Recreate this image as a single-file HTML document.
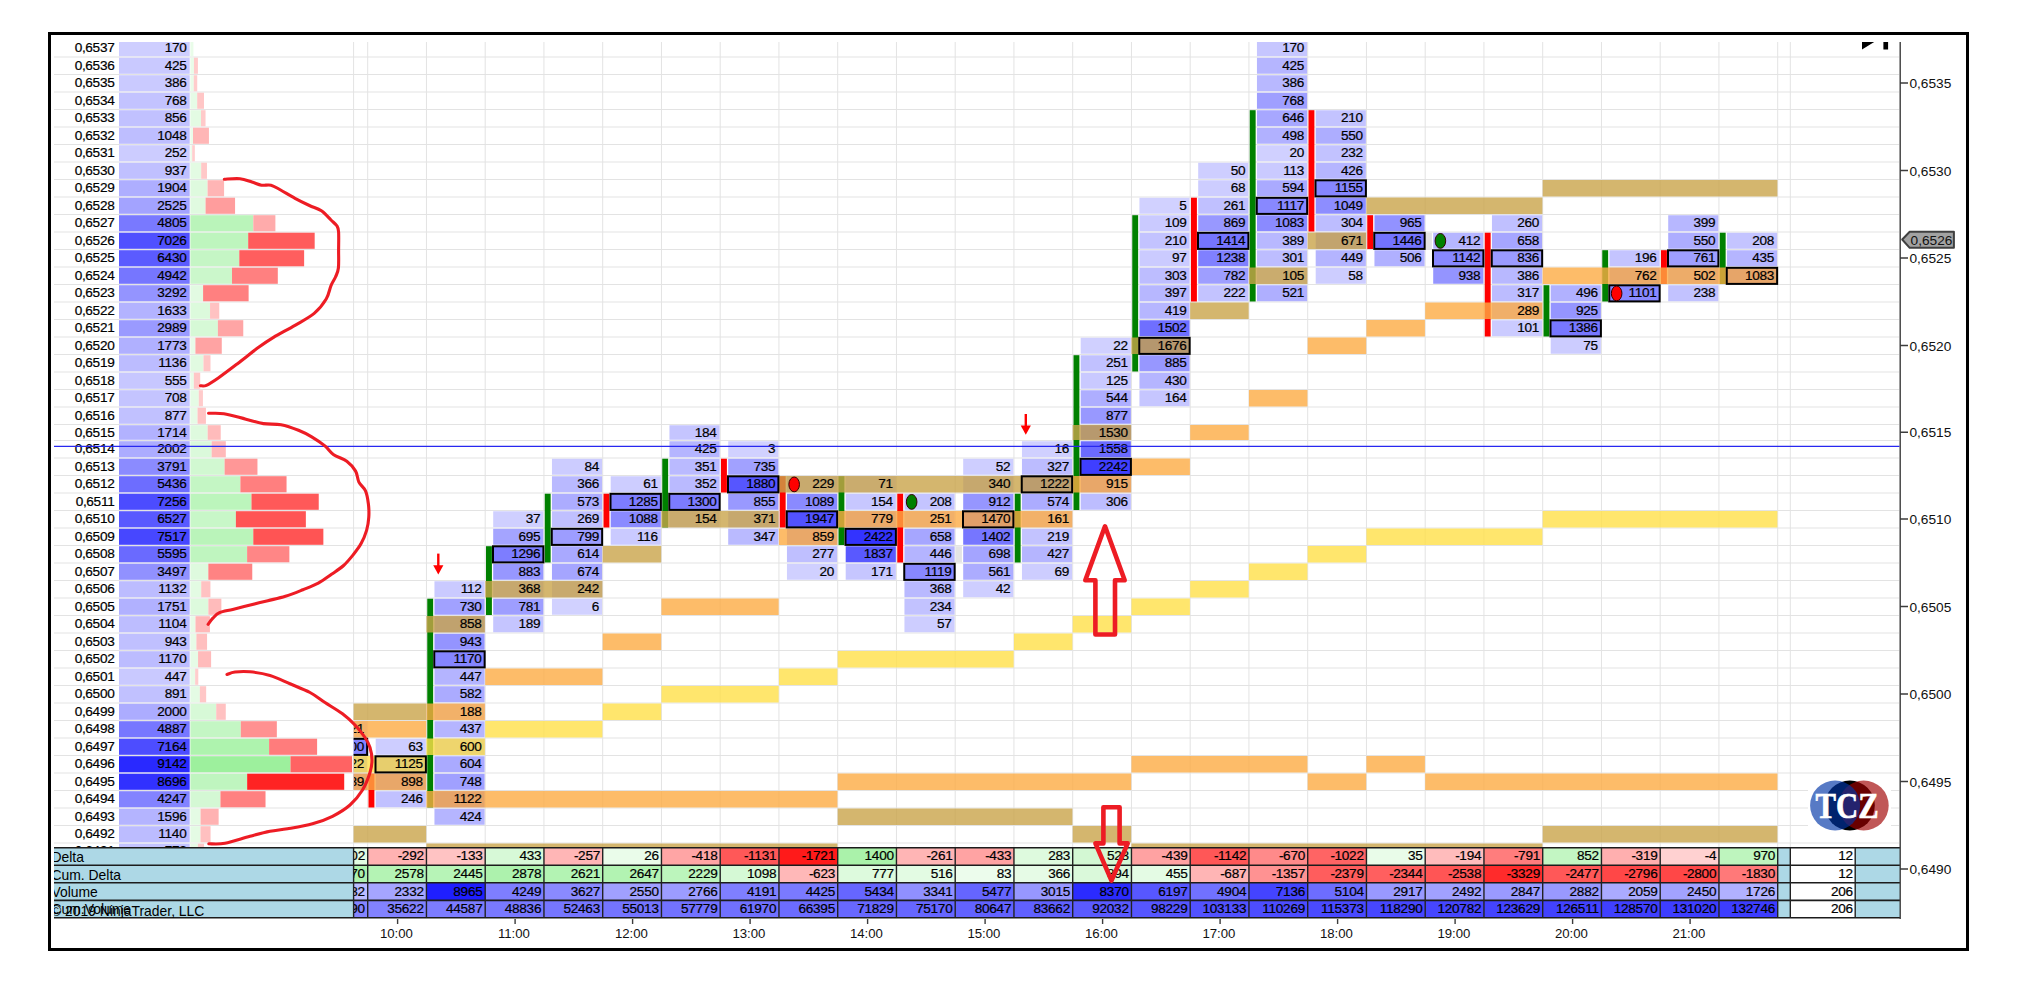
<!DOCTYPE html>
<html><head><meta charset="utf-8"><title>Footprint chart</title>
<style>
html,body{margin:0;padding:0;background:#fff}
body{width:2024px;height:1002px;position:relative;overflow:hidden;font-family:"Liberation Sans",sans-serif;font-size:13.6px;color:#000}
#frame{position:absolute;left:48px;top:32px;width:1915px;height:913px;border:3px solid #000}
svg{position:absolute;left:0;top:0}
.t{position:absolute;line-height:16px;height:16px;white-space:nowrap;-webkit-text-stroke:0.2px #000;letter-spacing:-0.3px}
.r{text-align:right}
.a{font-size:13.7px;-webkit-text-stroke:0;letter-spacing:0;color:#111}
.m{text-align:center;width:60px;font-size:13.2px;-webkit-text-stroke:0;letter-spacing:0;color:#111}
#ct{position:absolute;left:0;top:42px;width:2024px;height:805px;overflow:hidden}
#ct .t{margin-top:-42px}
#pc{position:absolute;left:353.6px;top:0;width:14.1px;height:1002px;overflow:hidden}
#lb{position:absolute;left:54px;top:848px;width:299px;height:70px;overflow:hidden}
#lb div{position:absolute;left:-2.5px;line-height:16px;white-space:nowrap;font-size:13.9px}
</style></head><body>
<div id="frame"></div>
<svg width="2024" height="1002" viewBox="0 0 2024 1002">
<defs><clipPath id="c1"><rect x="353.6" y="42" width="20" height="806"/></clipPath><clipPath id="cc"><rect x="54" y="42" width="1846" height="806"/></clipPath></defs>
<path d="M54 57 H1899 M54 74.5 H1899 M54 92 H1899 M54 109.5 H1899 M54 127 H1899 M54 144.5 H1899 M54 162 H1899 M54 179.5 H1899 M54 197 H1899 M54 214.5 H1899 M54 232 H1899 M54 249.5 H1899 M54 267 H1899 M54 284.5 H1899 M54 302 H1899 M54 319.5 H1899 M54 337 H1899 M54 354.5 H1899 M54 372 H1899 M54 389.5 H1899 M54 407 H1899 M54 424.5 H1899 M54 440.5 H1899 M54 458 H1899 M54 475.5 H1899 M54 493 H1899 M54 510.5 H1899 M54 528 H1899 M54 545.5 H1899 M54 563 H1899 M54 580.5 H1899 M54 598 H1899 M54 615.5 H1899 M54 633 H1899 M54 650.5 H1899 M54 668 H1899 M54 685.5 H1899 M54 703 H1899 M54 720.5 H1899 M54 738 H1899 M54 755.5 H1899 M54 773 H1899 M54 790.5 H1899 M54 808 H1899 M54 825.5 H1899 M54 843 H1899 M353.6 42 V847 M367.7 42 V847 M426.45 42 V847 M485.2 42 V847 M543.95 42 V847 M602.7 42 V847 M661.45 42 V847 M720.2 42 V847 M778.95 42 V847 M837.7 42 V847 M896.45 42 V847 M955.2 42 V847 M1013.95 42 V847 M1072.7 42 V847 M1131.45 42 V847 M1190.2 42 V847 M1248.95 42 V847 M1307.7 42 V847 M1366.45 42 V847 M1425.2 42 V847 M1483.95 42 V847 M1542.7 42 V847 M1601.45 42 V847 M1660.2 42 V847 M1718.95 42 V847 M1777.7 42 V847 M1790.3 42 V847" stroke="#e3e3e3" stroke-width="1" fill="none"/>
<g clip-path="url(#cc)">
<rect x="119" y="40.2" width="70.7" height="16.1" fill="#ceceff"/>
<rect x="190.4" y="40.2" width="3.01" height="16.1" fill="#e9fce9"/>
<rect x="119" y="57.7" width="70.7" height="16.1" fill="#c9c9ff"/>
<rect x="190.4" y="57.7" width="3.53" height="16.1" fill="#e9fce9"/>
<rect x="193.93" y="57.7" width="3.98" height="16.1" fill="#ffcbcb"/>
<rect x="119" y="75.2" width="70.7" height="16.1" fill="#cacaff"/>
<rect x="190.4" y="75.2" width="3.35" height="16.1" fill="#e9fce9"/>
<rect x="193.75" y="75.2" width="3.48" height="16.1" fill="#ffcccc"/>
<rect x="119" y="92.7" width="70.7" height="16.1" fill="#c3c3ff"/>
<rect x="190.4" y="92.7" width="6.79" height="16.1" fill="#e6fbe6"/>
<rect x="197.19" y="92.7" width="6.79" height="16.1" fill="#ffc6c6"/>
<rect x="119" y="110.2" width="70.7" height="16.1" fill="#c1c1ff"/>
<rect x="190.4" y="110.2" width="10.6" height="16.1" fill="#e3fbe3"/>
<rect x="201" y="110.2" width="4.54" height="16.1" fill="#ffcaca"/>
<rect x="119" y="127.7" width="70.7" height="16.1" fill="#bebeff"/>
<rect x="190.4" y="127.7" width="2.6" height="16.1" fill="#eafcea"/>
<rect x="193" y="127.7" width="15.94" height="16.1" fill="#ffb6b6"/>
<rect x="119" y="145.2" width="70.7" height="16.1" fill="#ccccff"/>
<rect x="190.4" y="145.2" width="1.78" height="16.1" fill="#eafcea"/>
<rect x="192.18" y="145.2" width="2.67" height="16.1" fill="#ffcece"/>
<rect x="119" y="162.7" width="70.7" height="16.1" fill="#c0c0ff"/>
<rect x="190.4" y="162.7" width="10.77" height="16.1" fill="#e3fbe3"/>
<rect x="201.17" y="162.7" width="5.8" height="16.1" fill="#ffc8c8"/>
<rect x="119" y="180.2" width="70.7" height="16.1" fill="#aeaeff"/>
<rect x="190.4" y="180.2" width="17.18" height="16.1" fill="#defade"/>
<rect x="207.58" y="180.2" width="16.5" height="16.1" fill="#ffb5b5"/>
<rect x="119" y="197.7" width="70.7" height="16.1" fill="#a3a3ff"/>
<rect x="190.4" y="197.7" width="15.18" height="16.1" fill="#e0fae0"/>
<rect x="205.58" y="197.7" width="29.48" height="16.1" fill="#ff9d9d"/>
<rect x="119" y="215.2" width="70.7" height="16.1" fill="#7979ff"/>
<rect x="190.4" y="215.2" width="62.89" height="16.1" fill="#baf4ba"/>
<rect x="253.29" y="215.2" width="22.1" height="16.1" fill="#ffabab"/>
<rect x="119" y="232.7" width="70.7" height="16.1" fill="#5050ff"/>
<rect x="190.4" y="232.7" width="57.79" height="16.1" fill="#bef5be"/>
<rect x="248.19" y="232.7" width="66.49" height="16.1" fill="#ff5b5b"/>
<rect x="119" y="250.2" width="70.7" height="16.1" fill="#5b5bff"/>
<rect x="190.4" y="250.2" width="48.9" height="16.1" fill="#c5f6c5"/>
<rect x="239.3" y="250.2" width="64.83" height="16.1" fill="#ff5e5e"/>
<rect x="119" y="267.7" width="70.7" height="16.1" fill="#7676ff"/>
<rect x="190.4" y="267.7" width="41.61" height="16.1" fill="#cbf7cb"/>
<rect x="232.01" y="267.7" width="45.8" height="16.1" fill="#ff8080"/>
<rect x="119" y="285.2" width="70.7" height="16.1" fill="#9494ff"/>
<rect x="190.4" y="285.2" width="12.69" height="16.1" fill="#e2fae2"/>
<rect x="203.09" y="285.2" width="45.53" height="16.1" fill="#ff8080"/>
<rect x="119" y="302.7" width="70.7" height="16.1" fill="#b3b3ff"/>
<rect x="190.4" y="302.7" width="19.64" height="16.1" fill="#dcfadc"/>
<rect x="210.04" y="302.7" width="9.24" height="16.1" fill="#ffc2c2"/>
<rect x="119" y="320.2" width="70.7" height="16.1" fill="#9a9aff"/>
<rect x="190.4" y="320.2" width="27.49" height="16.1" fill="#d6f9d6"/>
<rect x="217.89" y="320.2" width="25.38" height="16.1" fill="#ffa5a5"/>
<rect x="119" y="337.7" width="70.7" height="16.1" fill="#b0b0ff"/>
<rect x="190.4" y="337.7" width="5.02" height="16.1" fill="#e8fbe8"/>
<rect x="195.42" y="337.7" width="26.34" height="16.1" fill="#ffa3a3"/>
<rect x="119" y="355.2" width="70.7" height="16.1" fill="#bcbcff"/>
<rect x="190.4" y="355.2" width="13.06" height="16.1" fill="#e1fae1"/>
<rect x="203.46" y="355.2" width="7.03" height="16.1" fill="#ffc6c6"/>
<rect x="119" y="372.7" width="70.7" height="16.1" fill="#c7c7ff"/>
<rect x="190.4" y="372.7" width="3.44" height="16.1" fill="#e9fce9"/>
<rect x="193.84" y="372.7" width="6.38" height="16.1" fill="#ffc7c7"/>
<rect x="119" y="390.2" width="70.7" height="16.1" fill="#c4c4ff"/>
<rect x="190.4" y="390.2" width="8.39" height="16.1" fill="#e5fbe5"/>
<rect x="198.79" y="390.2" width="4.13" height="16.1" fill="#ffcbcb"/>
<rect x="119" y="407.7" width="70.7" height="16.1" fill="#c1c1ff"/>
<rect x="190.4" y="407.7" width="7.14" height="16.1" fill="#e6fbe6"/>
<rect x="197.54" y="407.7" width="8.38" height="16.1" fill="#ffc3c3"/>
<rect x="119" y="425.2" width="70.7" height="14.6" fill="#b2b2ff"/>
<rect x="190.4" y="425.2" width="17.28" height="14.6" fill="#defade"/>
<rect x="207.68" y="425.2" width="13.04" height="14.6" fill="#ffbbbb"/>
<rect x="119" y="441.2" width="70.7" height="16.1" fill="#acacff"/>
<rect x="190.4" y="441.2" width="21.25" height="16.1" fill="#dbf9db"/>
<rect x="211.65" y="441.2" width="14.16" height="16.1" fill="#ffb9b9"/>
<rect x="119" y="458.7" width="70.7" height="16.1" fill="#8b8bff"/>
<rect x="190.4" y="458.7" width="34.2" height="16.1" fill="#d1f8d1"/>
<rect x="224.6" y="458.7" width="32.86" height="16.1" fill="#ff9797"/>
<rect x="119" y="476.2" width="70.7" height="16.1" fill="#6d6dff"/>
<rect x="190.4" y="476.2" width="50" height="16.1" fill="#c4f6c4"/>
<rect x="240.4" y="476.2" width="46.15" height="16.1" fill="#ff7f7f"/>
<rect x="119" y="493.7" width="70.7" height="16.1" fill="#4c4cff"/>
<rect x="190.4" y="493.7" width="61.09" height="16.1" fill="#bcf5bc"/>
<rect x="251.49" y="493.7" width="67.25" height="16.1" fill="#ff5959"/>
<rect x="119" y="511.2" width="70.7" height="16.1" fill="#5959ff"/>
<rect x="190.4" y="511.2" width="45.49" height="16.1" fill="#c8f7c8"/>
<rect x="235.89" y="511.2" width="69.96" height="16.1" fill="#ff5454"/>
<rect x="119" y="528.7" width="70.7" height="16.1" fill="#4747ff"/>
<rect x="190.4" y="528.7" width="62.89" height="16.1" fill="#baf4ba"/>
<rect x="253.29" y="528.7" width="70.07" height="16.1" fill="#ff5454"/>
<rect x="119" y="546.2" width="70.7" height="16.1" fill="#6a6aff"/>
<rect x="190.4" y="546.2" width="56.71" height="16.1" fill="#bff5bf"/>
<rect x="247.11" y="546.2" width="42.26" height="16.1" fill="#ff8686"/>
<rect x="119" y="563.7" width="70.7" height="16.1" fill="#9191ff"/>
<rect x="190.4" y="563.7" width="17.94" height="16.1" fill="#defade"/>
<rect x="208.34" y="563.7" width="43.92" height="16.1" fill="#ff8383"/>
<rect x="119" y="581.2" width="70.7" height="16.1" fill="#bcbcff"/>
<rect x="190.4" y="581.2" width="10.81" height="16.1" fill="#e3fbe3"/>
<rect x="201.21" y="581.2" width="9.21" height="16.1" fill="#ffc2c2"/>
<rect x="119" y="598.7" width="70.7" height="16.1" fill="#b1b1ff"/>
<rect x="190.4" y="598.7" width="17.96" height="16.1" fill="#ddfadd"/>
<rect x="208.36" y="598.7" width="13.01" height="16.1" fill="#ffbbbb"/>
<rect x="119" y="616.2" width="70.7" height="16.1" fill="#bdbdff"/>
<rect x="190.4" y="616.2" width="5.08" height="16.1" fill="#e8fbe8"/>
<rect x="195.48" y="616.2" width="14.45" height="16.1" fill="#ffb8b8"/>
<rect x="119" y="633.7" width="70.7" height="16.1" fill="#c0c0ff"/>
<rect x="190.4" y="633.7" width="6" height="16.1" fill="#e7fbe7"/>
<rect x="196.4" y="633.7" width="10.67" height="16.1" fill="#ffbfbf"/>
<rect x="119" y="651.2" width="70.7" height="16.1" fill="#bcbcff"/>
<rect x="190.4" y="651.2" width="7.66" height="16.1" fill="#e6fbe6"/>
<rect x="198.06" y="651.2" width="13.04" height="16.1" fill="#ffbbbb"/>
<rect x="119" y="668.7" width="70.7" height="16.1" fill="#c9c9ff"/>
<rect x="190.4" y="668.7" width="4.74" height="16.1" fill="#e8fbe8"/>
<rect x="195.14" y="668.7" width="3.16" height="16.1" fill="#ffcdcd"/>
<rect x="119" y="686.2" width="70.7" height="16.1" fill="#c1c1ff"/>
<rect x="190.4" y="686.2" width="9.46" height="16.1" fill="#e4fbe4"/>
<rect x="199.86" y="686.2" width="6.3" height="16.1" fill="#ffc7c7"/>
<rect x="119" y="703.7" width="70.7" height="16.1" fill="#acacff"/>
<rect x="190.4" y="703.7" width="25.82" height="16.1" fill="#d7f9d7"/>
<rect x="216.22" y="703.7" width="9.55" height="16.1" fill="#ffc1c1"/>
<rect x="119" y="721.2" width="70.7" height="16.1" fill="#7777ff"/>
<rect x="190.4" y="721.2" width="50.39" height="16.1" fill="#c4f6c4"/>
<rect x="240.79" y="721.2" width="36.05" height="16.1" fill="#ff9191"/>
<rect x="119" y="738.7" width="70.7" height="16.1" fill="#4d4dff"/>
<rect x="190.4" y="738.7" width="78.69" height="16.1" fill="#aef3ae"/>
<rect x="269.09" y="738.7" width="48.02" height="16.1" fill="#ff7c7c"/>
<rect x="119" y="756.2" width="70.7" height="16.1" fill="#2929ff"/>
<rect x="190.4" y="756.2" width="100.09" height="16.1" fill="#9df09d"/>
<rect x="290.49" y="756.2" width="61.61" height="16.1" fill="#ff6363"/>
<rect x="119" y="773.7" width="70.7" height="16.1" fill="#3131ff"/>
<rect x="190.4" y="773.7" width="56.76" height="16.1" fill="#bff5bf"/>
<rect x="247.16" y="773.7" width="97.05" height="16.1" fill="#ff2323"/>
<rect x="119" y="791.2" width="70.7" height="16.1" fill="#8383ff"/>
<rect x="190.4" y="791.2" width="30.05" height="16.1" fill="#d4f8d4"/>
<rect x="220.45" y="791.2" width="45.07" height="16.1" fill="#ff8181"/>
<rect x="119" y="808.7" width="70.7" height="16.1" fill="#b4b4ff"/>
<rect x="190.4" y="808.7" width="10.16" height="16.1" fill="#e4fbe4"/>
<rect x="200.56" y="808.7" width="18.07" height="16.1" fill="#ffb2b2"/>
<rect x="119" y="826.2" width="70.7" height="16.1" fill="#bcbcff"/>
<rect x="190.4" y="826.2" width="10.08" height="16.1" fill="#e4fbe4"/>
<rect x="200.48" y="826.2" width="10.08" height="16.1" fill="#ffc0c0"/>
<rect x="119" y="843.7" width="70.7" height="16.1" fill="#c3c3ff"/>
<rect x="190.4" y="843.7" width="7.51" height="16.1" fill="#e6fbe6"/>
<rect x="197.91" y="843.7" width="6.14" height="16.1" fill="#ffc7c7"/>
<rect x="368.5" y="773.7" width="5.9" height="33.8" fill="#ff0000"/>
<rect x="427.25" y="598.7" width="5.9" height="208.8" fill="#008000"/>
<rect x="486" y="546.2" width="5.9" height="68.8" fill="#008000"/>
<rect x="544.75" y="493.7" width="5.9" height="68.8" fill="#008000"/>
<rect x="603.5" y="493.7" width="5.9" height="33.8" fill="#ff0000"/>
<rect x="662.25" y="458.7" width="5.9" height="68.8" fill="#008000"/>
<rect x="721" y="458.7" width="5.9" height="33.8" fill="#ff0000"/>
<rect x="779.75" y="476.2" width="5.9" height="51.3" fill="#ff0000"/>
<rect x="838.5" y="476.2" width="5.9" height="68.8" fill="#008000"/>
<rect x="897.25" y="493.7" width="5.9" height="68.8" fill="#ff0000"/>
<rect x="956" y="546.2" width="5.9" height="16.3" fill="#e4e4e4"/>
<rect x="1014.75" y="493.7" width="5.9" height="68.8" fill="#008000"/>
<rect x="1073.5" y="355.2" width="5.9" height="154.8" fill="#008000"/>
<rect x="1132.25" y="215.2" width="5.9" height="156.3" fill="#008000"/>
<rect x="1191" y="197.7" width="5.9" height="103.8" fill="#ff0000"/>
<rect x="1249.75" y="110.2" width="5.9" height="191.3" fill="#008000"/>
<rect x="1308.5" y="110.2" width="5.9" height="121.3" fill="#ff0000"/>
<rect x="1367.25" y="215.2" width="5.9" height="33.8" fill="#ff0000"/>
<rect x="1426" y="232.7" width="5.9" height="16.3" fill="#e4e4e4"/>
<rect x="1484.75" y="232.7" width="5.9" height="103.8" fill="#ff0000"/>
<rect x="1543.5" y="285.2" width="5.9" height="51.3" fill="#008000"/>
<rect x="1602.25" y="250.2" width="5.9" height="51.3" fill="#008000"/>
<rect x="1661" y="250.2" width="5.9" height="33.8" fill="#ff0000"/>
<rect x="1719.75" y="232.7" width="5.9" height="51.3" fill="#008000"/>
<rect x="353.6" y="721.25" width="13.5" height="16" fill="#d0d0ff"/>
<rect x="353.6" y="738.75" width="13.5" height="16" fill="#8383ff"/>
<rect x="353.6" y="756.25" width="13.5" height="16" fill="#9595ff"/>
<rect x="353.6" y="773.75" width="13.5" height="16" fill="#9797ff"/>
<rect x="375.7" y="738.75" width="50.15" height="16" fill="#cdcdff"/>
<rect x="375.7" y="756.25" width="50.15" height="16" fill="#8888ff"/>
<rect x="375.7" y="773.75" width="50.15" height="16" fill="#9696ff"/>
<rect x="375.7" y="791.25" width="50.15" height="16" fill="#c1c1ff"/>
<rect x="434.45" y="581.25" width="50.15" height="16" fill="#cacaff"/>
<rect x="434.45" y="598.75" width="50.15" height="16" fill="#a1a1ff"/>
<rect x="434.45" y="616.25" width="50.15" height="16" fill="#9999ff"/>
<rect x="434.45" y="633.75" width="50.15" height="16" fill="#9494ff"/>
<rect x="434.45" y="651.25" width="50.15" height="16" fill="#8585ff"/>
<rect x="434.45" y="668.75" width="50.15" height="16" fill="#b4b4ff"/>
<rect x="434.45" y="686.25" width="50.15" height="16" fill="#ababff"/>
<rect x="434.45" y="703.75" width="50.15" height="16" fill="#c5c5ff"/>
<rect x="434.45" y="721.25" width="50.15" height="16" fill="#b5b5ff"/>
<rect x="434.45" y="738.75" width="50.15" height="16" fill="#aaaaff"/>
<rect x="434.45" y="756.25" width="50.15" height="16" fill="#aaaaff"/>
<rect x="434.45" y="773.75" width="50.15" height="16" fill="#a0a0ff"/>
<rect x="434.45" y="791.25" width="50.15" height="16" fill="#8888ff"/>
<rect x="434.45" y="808.75" width="50.15" height="16" fill="#b5b5ff"/>
<rect x="493.2" y="511.25" width="50.15" height="16" fill="#cfcfff"/>
<rect x="493.2" y="528.75" width="50.15" height="16" fill="#a4a4ff"/>
<rect x="493.2" y="546.25" width="50.15" height="16" fill="#7d7dff"/>
<rect x="493.2" y="563.75" width="50.15" height="16" fill="#9797ff"/>
<rect x="493.2" y="581.25" width="50.15" height="16" fill="#b9b9ff"/>
<rect x="493.2" y="598.75" width="50.15" height="16" fill="#9e9eff"/>
<rect x="493.2" y="616.25" width="50.15" height="16" fill="#c5c5ff"/>
<rect x="551.95" y="458.75" width="50.15" height="16" fill="#ccccff"/>
<rect x="551.95" y="476.25" width="50.15" height="16" fill="#b9b9ff"/>
<rect x="551.95" y="493.75" width="50.15" height="16" fill="#acacff"/>
<rect x="551.95" y="511.25" width="50.15" height="16" fill="#c0c0ff"/>
<rect x="551.95" y="528.75" width="50.15" height="16" fill="#9d9dff"/>
<rect x="551.95" y="546.25" width="50.15" height="16" fill="#a9a9ff"/>
<rect x="551.95" y="563.75" width="50.15" height="16" fill="#a5a5ff"/>
<rect x="551.95" y="581.25" width="50.15" height="16" fill="#c1c1ff"/>
<rect x="551.95" y="598.75" width="50.15" height="16" fill="#d1d1ff"/>
<rect x="610.7" y="476.25" width="50.15" height="16" fill="#cdcdff"/>
<rect x="610.7" y="493.75" width="50.15" height="16" fill="#7d7dff"/>
<rect x="610.7" y="511.25" width="50.15" height="16" fill="#8a8aff"/>
<rect x="610.7" y="528.75" width="50.15" height="16" fill="#cacaff"/>
<rect x="669.45" y="425.25" width="50.15" height="14.5" fill="#c5c5ff"/>
<rect x="669.45" y="441.25" width="50.15" height="16" fill="#b5b5ff"/>
<rect x="669.45" y="458.75" width="50.15" height="16" fill="#babaff"/>
<rect x="669.45" y="476.25" width="50.15" height="16" fill="#babaff"/>
<rect x="669.45" y="493.75" width="50.15" height="16" fill="#7c7cff"/>
<rect x="669.45" y="511.25" width="50.15" height="16" fill="#c7c7ff"/>
<rect x="728.2" y="441.25" width="50.15" height="16" fill="#d1d1ff"/>
<rect x="728.2" y="458.75" width="50.15" height="16" fill="#a1a1ff"/>
<rect x="728.2" y="476.25" width="50.15" height="16" fill="#5656ff"/>
<rect x="728.2" y="493.75" width="50.15" height="16" fill="#9999ff"/>
<rect x="728.2" y="511.25" width="50.15" height="16" fill="#b9b9ff"/>
<rect x="728.2" y="528.75" width="50.15" height="16" fill="#babaff"/>
<rect x="786.95" y="476.25" width="50.15" height="16" fill="#c2c2ff"/>
<rect x="786.95" y="493.75" width="50.15" height="16" fill="#8a8aff"/>
<rect x="786.95" y="511.25" width="50.15" height="16" fill="#5252ff"/>
<rect x="786.95" y="528.75" width="50.15" height="16" fill="#9999ff"/>
<rect x="786.95" y="546.25" width="50.15" height="16" fill="#bfbfff"/>
<rect x="786.95" y="563.75" width="50.15" height="16" fill="#d0d0ff"/>
<rect x="845.7" y="476.25" width="50.15" height="16" fill="#ccccff"/>
<rect x="845.7" y="493.75" width="50.15" height="16" fill="#c7c7ff"/>
<rect x="845.7" y="511.25" width="50.15" height="16" fill="#9e9eff"/>
<rect x="845.7" y="528.75" width="50.15" height="16" fill="#3333ff"/>
<rect x="845.7" y="546.25" width="50.15" height="16" fill="#5959ff"/>
<rect x="845.7" y="563.75" width="50.15" height="16" fill="#c6c6ff"/>
<rect x="904.45" y="493.75" width="50.15" height="16" fill="#c4c4ff"/>
<rect x="904.45" y="511.25" width="50.15" height="16" fill="#c1c1ff"/>
<rect x="904.45" y="528.75" width="50.15" height="16" fill="#a6a6ff"/>
<rect x="904.45" y="546.25" width="50.15" height="16" fill="#b4b4ff"/>
<rect x="904.45" y="563.75" width="50.15" height="16" fill="#8888ff"/>
<rect x="904.45" y="581.25" width="50.15" height="16" fill="#b9b9ff"/>
<rect x="904.45" y="598.75" width="50.15" height="16" fill="#c2c2ff"/>
<rect x="904.45" y="616.25" width="50.15" height="16" fill="#cdcdff"/>
<rect x="963.2" y="458.75" width="50.15" height="16" fill="#ceceff"/>
<rect x="963.2" y="476.25" width="50.15" height="16" fill="#bbbbff"/>
<rect x="963.2" y="493.75" width="50.15" height="16" fill="#9696ff"/>
<rect x="963.2" y="511.25" width="50.15" height="16" fill="#7171ff"/>
<rect x="963.2" y="528.75" width="50.15" height="16" fill="#7676ff"/>
<rect x="963.2" y="546.25" width="50.15" height="16" fill="#a4a4ff"/>
<rect x="963.2" y="563.75" width="50.15" height="16" fill="#acacff"/>
<rect x="963.2" y="581.25" width="50.15" height="16" fill="#ceceff"/>
<rect x="1021.95" y="441.25" width="50.15" height="16" fill="#d0d0ff"/>
<rect x="1021.95" y="458.75" width="50.15" height="16" fill="#bcbcff"/>
<rect x="1021.95" y="476.25" width="50.15" height="16" fill="#8181ff"/>
<rect x="1021.95" y="493.75" width="50.15" height="16" fill="#acacff"/>
<rect x="1021.95" y="511.25" width="50.15" height="16" fill="#c7c7ff"/>
<rect x="1021.95" y="528.75" width="50.15" height="16" fill="#c3c3ff"/>
<rect x="1021.95" y="546.25" width="50.15" height="16" fill="#b5b5ff"/>
<rect x="1021.95" y="563.75" width="50.15" height="16" fill="#cdcdff"/>
<rect x="1080.7" y="337.75" width="50.15" height="16" fill="#d0d0ff"/>
<rect x="1080.7" y="355.25" width="50.15" height="16" fill="#c1c1ff"/>
<rect x="1080.7" y="372.75" width="50.15" height="16" fill="#c9c9ff"/>
<rect x="1080.7" y="390.25" width="50.15" height="16" fill="#aeaeff"/>
<rect x="1080.7" y="407.75" width="50.15" height="16" fill="#9898ff"/>
<rect x="1080.7" y="425.25" width="50.15" height="14.5" fill="#6d6dff"/>
<rect x="1080.7" y="441.25" width="50.15" height="16" fill="#6b6bff"/>
<rect x="1080.7" y="458.75" width="50.15" height="16" fill="#3f3fff"/>
<rect x="1080.7" y="476.25" width="50.15" height="16" fill="#9595ff"/>
<rect x="1080.7" y="493.75" width="50.15" height="16" fill="#bdbdff"/>
<rect x="1139.45" y="197.75" width="50.15" height="16" fill="#d1d1ff"/>
<rect x="1139.45" y="215.25" width="50.15" height="16" fill="#cacaff"/>
<rect x="1139.45" y="232.75" width="50.15" height="16" fill="#c3c3ff"/>
<rect x="1139.45" y="250.25" width="50.15" height="16" fill="#cbcbff"/>
<rect x="1139.45" y="267.75" width="50.15" height="16" fill="#bdbdff"/>
<rect x="1139.45" y="285.25" width="50.15" height="16" fill="#b7b7ff"/>
<rect x="1139.45" y="302.75" width="50.15" height="16" fill="#b6b6ff"/>
<rect x="1139.45" y="320.25" width="50.15" height="16" fill="#6f6fff"/>
<rect x="1139.45" y="337.75" width="50.15" height="16" fill="#6464ff"/>
<rect x="1139.45" y="355.25" width="50.15" height="16" fill="#9797ff"/>
<rect x="1139.45" y="372.75" width="50.15" height="16" fill="#b5b5ff"/>
<rect x="1139.45" y="390.25" width="50.15" height="16" fill="#c6c6ff"/>
<rect x="1198.2" y="162.75" width="50.15" height="16" fill="#ceceff"/>
<rect x="1198.2" y="180.25" width="50.15" height="16" fill="#cdcdff"/>
<rect x="1198.2" y="197.75" width="50.15" height="16" fill="#c0c0ff"/>
<rect x="1198.2" y="215.25" width="50.15" height="16" fill="#9898ff"/>
<rect x="1198.2" y="232.75" width="50.15" height="16" fill="#7575ff"/>
<rect x="1198.2" y="250.25" width="50.15" height="16" fill="#8080ff"/>
<rect x="1198.2" y="267.75" width="50.15" height="16" fill="#9e9eff"/>
<rect x="1198.2" y="285.25" width="50.15" height="16" fill="#c3c3ff"/>
<rect x="1256.95" y="40.25" width="50.15" height="16" fill="#c6c6ff"/>
<rect x="1256.95" y="57.75" width="50.15" height="16" fill="#b5b5ff"/>
<rect x="1256.95" y="75.25" width="50.15" height="16" fill="#b8b8ff"/>
<rect x="1256.95" y="92.75" width="50.15" height="16" fill="#9f9fff"/>
<rect x="1256.95" y="110.25" width="50.15" height="16" fill="#a7a7ff"/>
<rect x="1256.95" y="127.75" width="50.15" height="16" fill="#b1b1ff"/>
<rect x="1256.95" y="145.25" width="50.15" height="16" fill="#d0d0ff"/>
<rect x="1256.95" y="162.75" width="50.15" height="16" fill="#cacaff"/>
<rect x="1256.95" y="180.25" width="50.15" height="16" fill="#aaaaff"/>
<rect x="1256.95" y="197.75" width="50.15" height="16" fill="#8888ff"/>
<rect x="1256.95" y="215.25" width="50.15" height="16" fill="#8a8aff"/>
<rect x="1256.95" y="232.75" width="50.15" height="16" fill="#b8b8ff"/>
<rect x="1256.95" y="250.25" width="50.15" height="16" fill="#bdbdff"/>
<rect x="1256.95" y="267.75" width="50.15" height="16" fill="#cacaff"/>
<rect x="1256.95" y="285.25" width="50.15" height="16" fill="#afafff"/>
<rect x="1315.7" y="110.25" width="50.15" height="16" fill="#c3c3ff"/>
<rect x="1315.7" y="127.75" width="50.15" height="16" fill="#adadff"/>
<rect x="1315.7" y="145.25" width="50.15" height="16" fill="#c2c2ff"/>
<rect x="1315.7" y="162.75" width="50.15" height="16" fill="#b5b5ff"/>
<rect x="1315.7" y="180.25" width="50.15" height="16" fill="#8686ff"/>
<rect x="1315.7" y="197.75" width="50.15" height="16" fill="#8d8dff"/>
<rect x="1315.7" y="215.25" width="50.15" height="16" fill="#bdbdff"/>
<rect x="1315.7" y="232.75" width="50.15" height="16" fill="#a5a5ff"/>
<rect x="1315.7" y="250.25" width="50.15" height="16" fill="#b4b4ff"/>
<rect x="1315.7" y="267.75" width="50.15" height="16" fill="#cdcdff"/>
<rect x="1374.45" y="215.25" width="50.15" height="16" fill="#9292ff"/>
<rect x="1374.45" y="232.75" width="50.15" height="16" fill="#7373ff"/>
<rect x="1374.45" y="250.25" width="50.15" height="16" fill="#b0b0ff"/>
<rect x="1433.2" y="232.75" width="50.15" height="16" fill="#b6b6ff"/>
<rect x="1433.2" y="250.25" width="50.15" height="16" fill="#8787ff"/>
<rect x="1433.2" y="267.75" width="50.15" height="16" fill="#9494ff"/>
<rect x="1491.95" y="215.25" width="50.15" height="16" fill="#c0c0ff"/>
<rect x="1491.95" y="232.75" width="50.15" height="16" fill="#a6a6ff"/>
<rect x="1491.95" y="250.25" width="50.15" height="16" fill="#9b9bff"/>
<rect x="1491.95" y="267.75" width="50.15" height="16" fill="#b8b8ff"/>
<rect x="1491.95" y="285.25" width="50.15" height="16" fill="#bcbcff"/>
<rect x="1491.95" y="302.75" width="50.15" height="16" fill="#bebeff"/>
<rect x="1491.95" y="320.25" width="50.15" height="16" fill="#cbcbff"/>
<rect x="1550.7" y="285.25" width="50.15" height="16" fill="#b1b1ff"/>
<rect x="1550.7" y="302.75" width="50.15" height="16" fill="#9595ff"/>
<rect x="1550.7" y="320.25" width="50.15" height="16" fill="#7777ff"/>
<rect x="1550.7" y="337.75" width="50.15" height="16" fill="#ccccff"/>
<rect x="1609.45" y="250.25" width="50.15" height="16" fill="#c4c4ff"/>
<rect x="1609.45" y="267.75" width="50.15" height="16" fill="#9f9fff"/>
<rect x="1609.45" y="285.25" width="50.15" height="16" fill="#8989ff"/>
<rect x="1668.2" y="215.25" width="50.15" height="16" fill="#b7b7ff"/>
<rect x="1668.2" y="232.75" width="50.15" height="16" fill="#adadff"/>
<rect x="1668.2" y="250.25" width="50.15" height="16" fill="#9f9fff"/>
<rect x="1668.2" y="267.75" width="50.15" height="16" fill="#b0b0ff"/>
<rect x="1668.2" y="285.25" width="50.15" height="16" fill="#c2c2ff"/>
<rect x="1726.95" y="232.75" width="50.15" height="16" fill="#c4c4ff"/>
<rect x="1726.95" y="250.25" width="50.15" height="16" fill="#b5b5ff"/>
<rect x="1726.95" y="267.75" width="50.15" height="16" fill="#8a8aff"/>
<rect x="353.6" y="703.5" width="72.55" height="16.5" fill="#c9a44a" fill-opacity="0.8"/>
<rect x="426.45" y="616" width="58.45" height="16.5" fill="#c9a44a" fill-opacity="0.8"/>
<rect x="485.2" y="581" width="117.2" height="16.5" fill="#c9a44a" fill-opacity="0.8"/>
<rect x="602.7" y="546" width="58.45" height="16.5" fill="#c9a44a" fill-opacity="0.8"/>
<rect x="661.45" y="511" width="117.2" height="16.5" fill="#c9a44a" fill-opacity="0.8"/>
<rect x="778.95" y="476" width="293.45" height="16.5" fill="#c9a44a" fill-opacity="0.8"/>
<rect x="1072.7" y="425" width="58.45" height="15" fill="#c9a44a" fill-opacity="0.8"/>
<rect x="1131.45" y="337.5" width="58.45" height="16.5" fill="#c9a44a" fill-opacity="0.8"/>
<rect x="1190.2" y="302.5" width="58.45" height="16.5" fill="#c9a44a" fill-opacity="0.8"/>
<rect x="1248.95" y="267.5" width="58.45" height="16.5" fill="#c9a44a" fill-opacity="0.8"/>
<rect x="1307.7" y="232.5" width="58.45" height="16.5" fill="#c9a44a" fill-opacity="0.8"/>
<rect x="1366.45" y="197.5" width="175.95" height="16.5" fill="#c9a44a" fill-opacity="0.8"/>
<rect x="1542.7" y="180" width="234.7" height="16.5" fill="#c9a44a" fill-opacity="0.8"/>
<rect x="353.6" y="826" width="72.55" height="16.5" fill="#c9a44a" fill-opacity="0.8"/>
<rect x="426.45" y="843.5" width="410.95" height="16.5" fill="#c9a44a" fill-opacity="0.8"/>
<rect x="837.7" y="808.5" width="234.7" height="16.5" fill="#c9a44a" fill-opacity="0.8"/>
<rect x="1072.7" y="826" width="58.45" height="16.5" fill="#c9a44a" fill-opacity="0.8"/>
<rect x="1131.45" y="843.5" width="410.95" height="16.5" fill="#c9a44a" fill-opacity="0.8"/>
<rect x="1542.7" y="826" width="234.7" height="16.5" fill="#c9a44a" fill-opacity="0.8"/>
<rect x="353.6" y="721" width="72.55" height="16.5" fill="#fcab44" fill-opacity="0.8"/>
<rect x="426.45" y="703.5" width="58.45" height="16.5" fill="#fcab44" fill-opacity="0.8"/>
<rect x="485.2" y="668.5" width="117.2" height="16.5" fill="#fcab44" fill-opacity="0.8"/>
<rect x="602.7" y="633.5" width="58.45" height="16.5" fill="#fcab44" fill-opacity="0.8"/>
<rect x="661.45" y="598.5" width="117.2" height="16.5" fill="#fcab44" fill-opacity="0.8"/>
<rect x="778.95" y="528.5" width="58.45" height="16.5" fill="#fcab44" fill-opacity="0.8"/>
<rect x="837.7" y="511" width="234.7" height="16.5" fill="#fcab44" fill-opacity="0.8"/>
<rect x="1072.7" y="476" width="58.45" height="16.5" fill="#fcab44" fill-opacity="0.8"/>
<rect x="1131.45" y="458.5" width="58.45" height="16.5" fill="#fcab44" fill-opacity="0.8"/>
<rect x="1190.2" y="425" width="58.45" height="15" fill="#fcab44" fill-opacity="0.8"/>
<rect x="1248.95" y="390" width="58.45" height="16.5" fill="#fcab44" fill-opacity="0.8"/>
<rect x="1307.7" y="337.5" width="58.45" height="16.5" fill="#fcab44" fill-opacity="0.8"/>
<rect x="1366.45" y="320" width="58.45" height="16.5" fill="#fcab44" fill-opacity="0.8"/>
<rect x="1425.2" y="302.5" width="117.2" height="16.5" fill="#fcab44" fill-opacity="0.8"/>
<rect x="1542.7" y="267.5" width="234.7" height="16.5" fill="#fcab44" fill-opacity="0.8"/>
<rect x="353.6" y="773.5" width="72.55" height="16.5" fill="#fcab44" fill-opacity="0.8"/>
<rect x="426.45" y="791" width="410.95" height="16.5" fill="#fcab44" fill-opacity="0.8"/>
<rect x="837.7" y="773.5" width="293.45" height="16.5" fill="#fcab44" fill-opacity="0.8"/>
<rect x="1131.45" y="756" width="175.95" height="16.5" fill="#fcab44" fill-opacity="0.8"/>
<rect x="1307.7" y="773.5" width="58.45" height="16.5" fill="#fcab44" fill-opacity="0.8"/>
<rect x="1366.45" y="756" width="58.45" height="16.5" fill="#fcab44" fill-opacity="0.8"/>
<rect x="1425.2" y="773.5" width="352.2" height="16.5" fill="#fcab44" fill-opacity="0.8"/>
<rect x="353.6" y="756" width="72.55" height="16.5" fill="#ffe049" fill-opacity="0.8"/>
<rect x="426.45" y="738.5" width="58.45" height="16.5" fill="#ffe049" fill-opacity="0.8"/>
<rect x="485.2" y="721" width="117.2" height="16.5" fill="#ffe049" fill-opacity="0.8"/>
<rect x="602.7" y="703.5" width="58.45" height="16.5" fill="#ffe049" fill-opacity="0.8"/>
<rect x="661.45" y="686" width="117.2" height="16.5" fill="#ffe049" fill-opacity="0.8"/>
<rect x="778.95" y="668.5" width="58.45" height="16.5" fill="#ffe049" fill-opacity="0.8"/>
<rect x="837.7" y="651" width="175.95" height="16.5" fill="#ffe049" fill-opacity="0.8"/>
<rect x="1013.95" y="633.5" width="58.45" height="16.5" fill="#ffe049" fill-opacity="0.8"/>
<rect x="1072.7" y="616" width="58.45" height="16.5" fill="#ffe049" fill-opacity="0.8"/>
<rect x="1131.45" y="598.5" width="58.45" height="16.5" fill="#ffe049" fill-opacity="0.8"/>
<rect x="1190.2" y="581" width="58.45" height="16.5" fill="#ffe049" fill-opacity="0.8"/>
<rect x="1248.95" y="563.5" width="58.45" height="16.5" fill="#ffe049" fill-opacity="0.8"/>
<rect x="1307.7" y="546" width="58.45" height="16.5" fill="#ffe049" fill-opacity="0.8"/>
<rect x="1366.45" y="528.5" width="175.95" height="16.5" fill="#ffe049" fill-opacity="0.8"/>
<rect x="1542.7" y="511" width="234.7" height="16.5" fill="#ffe049" fill-opacity="0.8"/>
<rect x="316.75" y="738.8" width="50.4" height="16.1" fill="none" stroke="#000" stroke-width="2" clip-path="url(#c1)"/>
<rect x="375.5" y="756.3" width="50.4" height="16.1" fill="none" stroke="#000" stroke-width="2"/>
<rect x="434.25" y="651.3" width="50.4" height="16.1" fill="none" stroke="#000" stroke-width="2"/>
<rect x="493" y="546.3" width="50.4" height="16.1" fill="none" stroke="#000" stroke-width="2"/>
<rect x="551.75" y="528.8" width="50.4" height="16.1" fill="none" stroke="#000" stroke-width="2"/>
<rect x="610.5" y="493.8" width="50.4" height="16.1" fill="none" stroke="#000" stroke-width="2"/>
<rect x="669.25" y="493.8" width="50.4" height="16.1" fill="none" stroke="#000" stroke-width="2"/>
<rect x="728" y="476.3" width="50.4" height="16.1" fill="none" stroke="#000" stroke-width="2"/>
<rect x="786.75" y="511.3" width="50.4" height="16.1" fill="none" stroke="#000" stroke-width="2"/>
<rect x="845.5" y="528.8" width="50.4" height="16.1" fill="none" stroke="#000" stroke-width="2"/>
<rect x="904.25" y="563.8" width="50.4" height="16.1" fill="none" stroke="#000" stroke-width="2"/>
<rect x="963" y="511.3" width="50.4" height="16.1" fill="none" stroke="#000" stroke-width="2"/>
<rect x="1021.75" y="476.3" width="50.4" height="16.1" fill="none" stroke="#000" stroke-width="2"/>
<rect x="1080.5" y="458.8" width="50.4" height="16.1" fill="none" stroke="#000" stroke-width="2"/>
<rect x="1139.25" y="337.8" width="50.4" height="16.1" fill="none" stroke="#000" stroke-width="2"/>
<rect x="1198" y="232.8" width="50.4" height="16.1" fill="none" stroke="#000" stroke-width="2"/>
<rect x="1256.75" y="197.8" width="50.4" height="16.1" fill="none" stroke="#000" stroke-width="2"/>
<rect x="1315.5" y="180.3" width="50.4" height="16.1" fill="none" stroke="#000" stroke-width="2"/>
<rect x="1374.25" y="232.8" width="50.4" height="16.1" fill="none" stroke="#000" stroke-width="2"/>
<rect x="1433" y="250.3" width="50.4" height="16.1" fill="none" stroke="#000" stroke-width="2"/>
<rect x="1491.75" y="250.3" width="50.4" height="16.1" fill="none" stroke="#000" stroke-width="2"/>
<rect x="1550.5" y="320.3" width="50.4" height="16.1" fill="none" stroke="#000" stroke-width="2"/>
<rect x="1609.25" y="285.3" width="50.4" height="16.1" fill="none" stroke="#000" stroke-width="2"/>
<rect x="1668" y="250.3" width="50.4" height="16.1" fill="none" stroke="#000" stroke-width="2"/>
<rect x="1726.75" y="267.8" width="50.4" height="16.1" fill="none" stroke="#000" stroke-width="2"/>
<ellipse cx="794.15" cy="484.4" rx="5.3" ry="7.4" fill="#ff0000" stroke="#300" stroke-width="1"/>
<ellipse cx="911.65" cy="501.9" rx="5.3" ry="7.4" fill="#008000" stroke="#300" stroke-width="1"/>
<ellipse cx="1440.4" cy="240.9" rx="5.3" ry="7.4" fill="#008000" stroke="#300" stroke-width="1"/>
<ellipse cx="1616.65" cy="293.4" rx="5.3" ry="7.4" fill="#ff0000" stroke="#300" stroke-width="1"/>
</g>
<rect x="54" y="847.8" width="1846" height="69.9" fill="#add8e6"/>
<rect x="1790.3" y="847.8" width="64.9" height="69.9" fill="#fff"/>
<rect x="353.6" y="847.8" width="14.1" height="17.5" fill="#e2fbe2"/>
<rect x="353.6" y="865.3" width="14.1" height="17.5" fill="#adf2ad"/>
<rect x="353.6" y="882.8" width="14.1" height="17.6" fill="#bcbcff"/>
<rect x="353.6" y="900.4" width="14.1" height="17.3" fill="#8484ff"/>
<rect x="367.7" y="847.8" width="58.75" height="17.5" fill="#ffb2b2"/>
<rect x="367.7" y="865.3" width="58.75" height="17.5" fill="#b4f3b4"/>
<rect x="367.7" y="882.8" width="58.75" height="17.6" fill="#a5a5ff"/>
<rect x="367.7" y="900.4" width="58.75" height="17.3" fill="#8282ff"/>
<rect x="426.45" y="847.8" width="58.75" height="17.5" fill="#ffc3c3"/>
<rect x="426.45" y="865.3" width="58.75" height="17.5" fill="#b7f4b7"/>
<rect x="426.45" y="882.8" width="58.75" height="17.6" fill="#1f1fff"/>
<rect x="426.45" y="900.4" width="58.75" height="17.3" fill="#7c7cff"/>
<rect x="485.2" y="847.8" width="58.75" height="17.5" fill="#d7f9d7"/>
<rect x="485.2" y="865.3" width="58.75" height="17.5" fill="#adf2ad"/>
<rect x="485.2" y="882.8" width="58.75" height="17.6" fill="#7e7eff"/>
<rect x="485.2" y="900.4" width="58.75" height="17.3" fill="#7979ff"/>
<rect x="543.95" y="847.8" width="58.75" height="17.5" fill="#ffb6b6"/>
<rect x="543.95" y="865.3" width="58.75" height="17.5" fill="#b3f3b3"/>
<rect x="543.95" y="882.8" width="58.75" height="17.6" fill="#8a8aff"/>
<rect x="543.95" y="900.4" width="58.75" height="17.3" fill="#7676ff"/>
<rect x="602.7" y="847.8" width="58.75" height="17.5" fill="#eafcea"/>
<rect x="602.7" y="865.3" width="58.75" height="17.5" fill="#b2f3b2"/>
<rect x="602.7" y="882.8" width="58.75" height="17.6" fill="#a0a0ff"/>
<rect x="602.7" y="900.4" width="58.75" height="17.3" fill="#7474ff"/>
<rect x="661.45" y="847.8" width="58.75" height="17.5" fill="#ffa5a5"/>
<rect x="661.45" y="865.3" width="58.75" height="17.5" fill="#bcf5bc"/>
<rect x="661.45" y="882.8" width="58.75" height="17.6" fill="#9c9cff"/>
<rect x="661.45" y="900.4" width="58.75" height="17.3" fill="#7272ff"/>
<rect x="720.2" y="847.8" width="58.75" height="17.5" fill="#ff5858"/>
<rect x="720.2" y="865.3" width="58.75" height="17.5" fill="#d5f9d5"/>
<rect x="720.2" y="882.8" width="58.75" height="17.6" fill="#7f7fff"/>
<rect x="720.2" y="900.4" width="58.75" height="17.3" fill="#7070ff"/>
<rect x="778.95" y="847.8" width="58.75" height="17.5" fill="#ff1a1a"/>
<rect x="778.95" y="865.3" width="58.75" height="17.5" fill="#ffb8b8"/>
<rect x="778.95" y="882.8" width="58.75" height="17.6" fill="#7a7aff"/>
<rect x="778.95" y="900.4" width="58.75" height="17.3" fill="#6c6cff"/>
<rect x="837.7" y="847.8" width="58.75" height="17.5" fill="#aaf2aa"/>
<rect x="837.7" y="865.3" width="58.75" height="17.5" fill="#ddfadd"/>
<rect x="837.7" y="882.8" width="58.75" height="17.6" fill="#6666ff"/>
<rect x="837.7" y="900.4" width="58.75" height="17.3" fill="#6868ff"/>
<rect x="896.45" y="847.8" width="58.75" height="17.5" fill="#ffb5b5"/>
<rect x="896.45" y="865.3" width="58.75" height="17.5" fill="#e3fbe3"/>
<rect x="896.45" y="882.8" width="58.75" height="17.6" fill="#9090ff"/>
<rect x="896.45" y="900.4" width="58.75" height="17.3" fill="#6666ff"/>
<rect x="955.2" y="847.8" width="58.75" height="17.5" fill="#ffa3a3"/>
<rect x="955.2" y="865.3" width="58.75" height="17.5" fill="#ecfcec"/>
<rect x="955.2" y="882.8" width="58.75" height="17.6" fill="#6565ff"/>
<rect x="955.2" y="900.4" width="58.75" height="17.3" fill="#6262ff"/>
<rect x="1013.95" y="847.8" width="58.75" height="17.5" fill="#defade"/>
<rect x="1013.95" y="865.3" width="58.75" height="17.5" fill="#e6fbe6"/>
<rect x="1013.95" y="882.8" width="58.75" height="17.6" fill="#9797ff"/>
<rect x="1013.95" y="900.4" width="58.75" height="17.3" fill="#6060ff"/>
<rect x="1072.7" y="847.8" width="58.75" height="17.5" fill="#d3f8d3"/>
<rect x="1072.7" y="865.3" width="58.75" height="17.5" fill="#daf9da"/>
<rect x="1072.7" y="882.8" width="58.75" height="17.6" fill="#2b2bff"/>
<rect x="1072.7" y="900.4" width="58.75" height="17.3" fill="#5a5aff"/>
<rect x="1131.45" y="847.8" width="58.75" height="17.5" fill="#ffa2a2"/>
<rect x="1131.45" y="865.3" width="58.75" height="17.5" fill="#e4fbe4"/>
<rect x="1131.45" y="882.8" width="58.75" height="17.6" fill="#5757ff"/>
<rect x="1131.45" y="900.4" width="58.75" height="17.3" fill="#5656ff"/>
<rect x="1190.2" y="847.8" width="58.75" height="17.5" fill="#ff5757"/>
<rect x="1190.2" y="865.3" width="58.75" height="17.5" fill="#ffb5b5"/>
<rect x="1190.2" y="882.8" width="58.75" height="17.6" fill="#7171ff"/>
<rect x="1190.2" y="900.4" width="58.75" height="17.3" fill="#5252ff"/>
<rect x="1248.95" y="847.8" width="58.75" height="17.5" fill="#ff8a8a"/>
<rect x="1248.95" y="865.3" width="58.75" height="17.5" fill="#ff9292"/>
<rect x="1248.95" y="882.8" width="58.75" height="17.6" fill="#4444ff"/>
<rect x="1248.95" y="900.4" width="58.75" height="17.3" fill="#4d4dff"/>
<rect x="1307.7" y="847.8" width="58.75" height="17.5" fill="#ff6464"/>
<rect x="1307.7" y="865.3" width="58.75" height="17.5" fill="#ff5d5d"/>
<rect x="1307.7" y="882.8" width="58.75" height="17.6" fill="#6d6dff"/>
<rect x="1307.7" y="900.4" width="58.75" height="17.3" fill="#4a4aff"/>
<rect x="1366.45" y="847.8" width="58.75" height="17.5" fill="#e9fce9"/>
<rect x="1366.45" y="865.3" width="58.75" height="17.5" fill="#ff5f5f"/>
<rect x="1366.45" y="882.8" width="58.75" height="17.6" fill="#9999ff"/>
<rect x="1366.45" y="900.4" width="58.75" height="17.3" fill="#4747ff"/>
<rect x="1425.2" y="847.8" width="58.75" height="17.5" fill="#ffbcbc"/>
<rect x="1425.2" y="865.3" width="58.75" height="17.5" fill="#ff5555"/>
<rect x="1425.2" y="882.8" width="58.75" height="17.6" fill="#a1a1ff"/>
<rect x="1425.2" y="900.4" width="58.75" height="17.3" fill="#4646ff"/>
<rect x="1483.95" y="847.8" width="58.75" height="17.5" fill="#ff7d7d"/>
<rect x="1483.95" y="865.3" width="58.75" height="17.5" fill="#ff2b2b"/>
<rect x="1483.95" y="882.8" width="58.75" height="17.6" fill="#9a9aff"/>
<rect x="1483.95" y="900.4" width="58.75" height="17.3" fill="#4444ff"/>
<rect x="1542.7" y="847.8" width="58.75" height="17.5" fill="#c3f6c3"/>
<rect x="1542.7" y="865.3" width="58.75" height="17.5" fill="#ff5858"/>
<rect x="1542.7" y="882.8" width="58.75" height="17.6" fill="#9999ff"/>
<rect x="1542.7" y="900.4" width="58.75" height="17.3" fill="#4242ff"/>
<rect x="1601.45" y="847.8" width="58.75" height="17.5" fill="#ffafaf"/>
<rect x="1601.45" y="865.3" width="58.75" height="17.5" fill="#ff4747"/>
<rect x="1601.45" y="882.8" width="58.75" height="17.6" fill="#aaaaff"/>
<rect x="1601.45" y="900.4" width="58.75" height="17.3" fill="#4040ff"/>
<rect x="1660.2" y="847.8" width="58.75" height="17.5" fill="#ffd1d1"/>
<rect x="1660.2" y="865.3" width="58.75" height="17.5" fill="#ff4747"/>
<rect x="1660.2" y="882.8" width="58.75" height="17.6" fill="#a2a2ff"/>
<rect x="1660.2" y="900.4" width="58.75" height="17.3" fill="#3e3eff"/>
<rect x="1718.95" y="847.8" width="58.75" height="17.5" fill="#bef5be"/>
<rect x="1718.95" y="865.3" width="58.75" height="17.5" fill="#ff7979"/>
<rect x="1718.95" y="882.8" width="58.75" height="17.6" fill="#b1b1ff"/>
<rect x="1718.95" y="900.4" width="58.75" height="17.3" fill="#3d3dff"/>
<path d="M54 847.8 H1900 M54 865.3 H1900 M54 882.8 H1900 M54 900.4 H1900 M54 917.7 H1900" stroke="#1c1c1c" stroke-width="1.6" fill="none"/>
<path d="M353.6 847.8 V917.7 M367.7 847.8 V917.7 M426.45 847.8 V917.7 M485.2 847.8 V917.7 M543.95 847.8 V917.7 M602.7 847.8 V917.7 M661.45 847.8 V917.7 M720.2 847.8 V917.7 M778.95 847.8 V917.7 M837.7 847.8 V917.7 M896.45 847.8 V917.7 M955.2 847.8 V917.7 M1013.95 847.8 V917.7 M1072.7 847.8 V917.7 M1131.45 847.8 V917.7 M1190.2 847.8 V917.7 M1248.95 847.8 V917.7 M1307.7 847.8 V917.7 M1366.45 847.8 V917.7 M1425.2 847.8 V917.7 M1483.95 847.8 V917.7 M1542.7 847.8 V917.7 M1601.45 847.8 V917.7 M1660.2 847.8 V917.7 M1718.95 847.8 V917.7 M1777.7 847.8 V917.7 M1790.3 847.8 V917.7 M1855.2 847.8 V917.7" stroke="#222" stroke-width="1.4" fill="none"/>
<path d="M1900.2 42 V918.9 M1900 82.95 H1908 M1900 170.45 H1908 M1900 257.95 H1908 M1900 345.45 H1908 M1900 432.2 H1908 M1900 518.95 H1908 M1900 606.45 H1908 M1900 693.95 H1908 M1900 781.45 H1908 M1900 868.95 H1908 M397.6 918.9 V924 M515.1 918.9 V924 M632.6 918.9 V924 M750.1 918.9 V924 M867.6 918.9 V924 M985.1 918.9 V924 M1102.6 918.9 V924 M1220.1 918.9 V924 M1337.6 918.9 V924 M1455.1 918.9 V924 M1572.6 918.9 V924 M1690.1 918.9 V924" stroke="#3c3c3c" stroke-width="1.4" fill="none"/>
<path d="M1902.2 239.5 L1909.7 231.7 H1953.9 V247.8 H1909.7 Z" fill="#a2a2a2" stroke="#404040" stroke-width="2" stroke-linejoin="round"/>
<path d="M1862 42 H1874.2 L1862 49.4 Z M1883.4 42 H1888.1 V49.4 H1883.4 Z" fill="#000"/>
<rect x="1808" y="776" width="83" height="59" fill="#fff"/>
<circle cx="1849.8" cy="805.5" r="25" fill="#000"/>
<circle cx="1863.7" cy="805.5" r="25" fill="#9f0000" fill-opacity="0.66"/>
<circle cx="1835.1" cy="805.5" r="25" fill="#0035a7" fill-opacity="0.66"/>
<text x="1815.6" y="818.2" textLength="63" lengthAdjust="spacingAndGlyphs" font-family="Liberation Serif, serif" font-weight="bold" font-size="36.6" fill="#fff" stroke="#fff" stroke-width="0.7">TCZ</text>
</svg>
<div id="ct"><div class="t r" style="right:1909.6px;top:40.2px">0,6537</div>
<div class="t r" style="right:1837.6px;top:40.2px">170</div>
<div class="t r" style="right:1909.6px;top:57.7px">0,6536</div>
<div class="t r" style="right:1837.6px;top:57.7px">425</div>
<div class="t r" style="right:1909.6px;top:75.2px">0,6535</div>
<div class="t r" style="right:1837.6px;top:75.2px">386</div>
<div class="t r" style="right:1909.6px;top:92.7px">0,6534</div>
<div class="t r" style="right:1837.6px;top:92.7px">768</div>
<div class="t r" style="right:1909.6px;top:110.2px">0,6533</div>
<div class="t r" style="right:1837.6px;top:110.2px">856</div>
<div class="t r" style="right:1909.6px;top:127.7px">0,6532</div>
<div class="t r" style="right:1837.6px;top:127.7px">1048</div>
<div class="t r" style="right:1909.6px;top:145.2px">0,6531</div>
<div class="t r" style="right:1837.6px;top:145.2px">252</div>
<div class="t r" style="right:1909.6px;top:162.7px">0,6530</div>
<div class="t r" style="right:1837.6px;top:162.7px">937</div>
<div class="t r" style="right:1909.6px;top:180.2px">0,6529</div>
<div class="t r" style="right:1837.6px;top:180.2px">1904</div>
<div class="t r" style="right:1909.6px;top:197.7px">0,6528</div>
<div class="t r" style="right:1837.6px;top:197.7px">2525</div>
<div class="t r" style="right:1909.6px;top:215.2px">0,6527</div>
<div class="t r" style="right:1837.6px;top:215.2px">4805</div>
<div class="t r" style="right:1909.6px;top:232.7px">0,6526</div>
<div class="t r" style="right:1837.6px;top:232.7px">7026</div>
<div class="t r" style="right:1909.6px;top:250.2px">0,6525</div>
<div class="t r" style="right:1837.6px;top:250.2px">6430</div>
<div class="t r" style="right:1909.6px;top:267.7px">0,6524</div>
<div class="t r" style="right:1837.6px;top:267.7px">4942</div>
<div class="t r" style="right:1909.6px;top:285.2px">0,6523</div>
<div class="t r" style="right:1837.6px;top:285.2px">3292</div>
<div class="t r" style="right:1909.6px;top:302.7px">0,6522</div>
<div class="t r" style="right:1837.6px;top:302.7px">1633</div>
<div class="t r" style="right:1909.6px;top:320.2px">0,6521</div>
<div class="t r" style="right:1837.6px;top:320.2px">2989</div>
<div class="t r" style="right:1909.6px;top:337.7px">0,6520</div>
<div class="t r" style="right:1837.6px;top:337.7px">1773</div>
<div class="t r" style="right:1909.6px;top:355.2px">0,6519</div>
<div class="t r" style="right:1837.6px;top:355.2px">1136</div>
<div class="t r" style="right:1909.6px;top:372.7px">0,6518</div>
<div class="t r" style="right:1837.6px;top:372.7px">555</div>
<div class="t r" style="right:1909.6px;top:390.2px">0,6517</div>
<div class="t r" style="right:1837.6px;top:390.2px">708</div>
<div class="t r" style="right:1909.6px;top:407.7px">0,6516</div>
<div class="t r" style="right:1837.6px;top:407.7px">877</div>
<div class="t r" style="right:1909.6px;top:425.2px">0,6515</div>
<div class="t r" style="right:1837.6px;top:425.2px">1714</div>
<div class="t r" style="right:1909.6px;top:441.2px">0,6514</div>
<div class="t r" style="right:1837.6px;top:441.2px">2002</div>
<div class="t r" style="right:1909.6px;top:458.7px">0,6513</div>
<div class="t r" style="right:1837.6px;top:458.7px">3791</div>
<div class="t r" style="right:1909.6px;top:476.2px">0,6512</div>
<div class="t r" style="right:1837.6px;top:476.2px">5436</div>
<div class="t r" style="right:1909.6px;top:493.7px">0,6511</div>
<div class="t r" style="right:1837.6px;top:493.7px">7256</div>
<div class="t r" style="right:1909.6px;top:511.2px">0,6510</div>
<div class="t r" style="right:1837.6px;top:511.2px">6527</div>
<div class="t r" style="right:1909.6px;top:528.7px">0,6509</div>
<div class="t r" style="right:1837.6px;top:528.7px">7517</div>
<div class="t r" style="right:1909.6px;top:546.2px">0,6508</div>
<div class="t r" style="right:1837.6px;top:546.2px">5595</div>
<div class="t r" style="right:1909.6px;top:563.7px">0,6507</div>
<div class="t r" style="right:1837.6px;top:563.7px">3497</div>
<div class="t r" style="right:1909.6px;top:581.2px">0,6506</div>
<div class="t r" style="right:1837.6px;top:581.2px">1132</div>
<div class="t r" style="right:1909.6px;top:598.7px">0,6505</div>
<div class="t r" style="right:1837.6px;top:598.7px">1751</div>
<div class="t r" style="right:1909.6px;top:616.2px">0,6504</div>
<div class="t r" style="right:1837.6px;top:616.2px">1104</div>
<div class="t r" style="right:1909.6px;top:633.7px">0,6503</div>
<div class="t r" style="right:1837.6px;top:633.7px">943</div>
<div class="t r" style="right:1909.6px;top:651.2px">0,6502</div>
<div class="t r" style="right:1837.6px;top:651.2px">1170</div>
<div class="t r" style="right:1909.6px;top:668.7px">0,6501</div>
<div class="t r" style="right:1837.6px;top:668.7px">447</div>
<div class="t r" style="right:1909.6px;top:686.2px">0,6500</div>
<div class="t r" style="right:1837.6px;top:686.2px">891</div>
<div class="t r" style="right:1909.6px;top:703.7px">0,6499</div>
<div class="t r" style="right:1837.6px;top:703.7px">2000</div>
<div class="t r" style="right:1909.6px;top:721.2px">0,6498</div>
<div class="t r" style="right:1837.6px;top:721.2px">4887</div>
<div class="t r" style="right:1909.6px;top:738.7px">0,6497</div>
<div class="t r" style="right:1837.6px;top:738.7px">7164</div>
<div class="t r" style="right:1909.6px;top:756.2px">0,6496</div>
<div class="t r" style="right:1837.6px;top:756.2px">9142</div>
<div class="t r" style="right:1909.6px;top:773.7px">0,6495</div>
<div class="t r" style="right:1837.6px;top:773.7px">8696</div>
<div class="t r" style="right:1909.6px;top:791.2px">0,6494</div>
<div class="t r" style="right:1837.6px;top:791.2px">4247</div>
<div class="t r" style="right:1909.6px;top:808.7px">0,6493</div>
<div class="t r" style="right:1837.6px;top:808.7px">1596</div>
<div class="t r" style="right:1909.6px;top:826.2px">0,6492</div>
<div class="t r" style="right:1837.6px;top:826.2px">1140</div>
<div class="t r" style="right:1909.6px;top:842.7px">0,6491</div>
<div class="t r" style="right:1837.6px;top:842.7px">772</div>
<div class="t r" style="right:1601.2px;top:738.7px">63</div>
<div class="t r" style="right:1601.2px;top:756.2px">1125</div>
<div class="t r" style="right:1601.2px;top:773.7px">898</div>
<div class="t r" style="right:1601.2px;top:791.2px">246</div>
<div class="t r" style="right:1542.45px;top:581.2px">112</div>
<div class="t r" style="right:1542.45px;top:598.7px">730</div>
<div class="t r" style="right:1542.45px;top:616.2px">858</div>
<div class="t r" style="right:1542.45px;top:633.7px">943</div>
<div class="t r" style="right:1542.45px;top:651.2px">1170</div>
<div class="t r" style="right:1542.45px;top:668.7px">447</div>
<div class="t r" style="right:1542.45px;top:686.2px">582</div>
<div class="t r" style="right:1542.45px;top:703.7px">188</div>
<div class="t r" style="right:1542.45px;top:721.2px">437</div>
<div class="t r" style="right:1542.45px;top:738.7px">600</div>
<div class="t r" style="right:1542.45px;top:756.2px">604</div>
<div class="t r" style="right:1542.45px;top:773.7px">748</div>
<div class="t r" style="right:1542.45px;top:791.2px">1122</div>
<div class="t r" style="right:1542.45px;top:808.7px">424</div>
<div class="t r" style="right:1483.7px;top:511.2px">37</div>
<div class="t r" style="right:1483.7px;top:528.7px">695</div>
<div class="t r" style="right:1483.7px;top:546.2px">1296</div>
<div class="t r" style="right:1483.7px;top:563.7px">883</div>
<div class="t r" style="right:1483.7px;top:581.2px">368</div>
<div class="t r" style="right:1483.7px;top:598.7px">781</div>
<div class="t r" style="right:1483.7px;top:616.2px">189</div>
<div class="t r" style="right:1424.95px;top:458.7px">84</div>
<div class="t r" style="right:1424.95px;top:476.2px">366</div>
<div class="t r" style="right:1424.95px;top:493.7px">573</div>
<div class="t r" style="right:1424.95px;top:511.2px">269</div>
<div class="t r" style="right:1424.95px;top:528.7px">799</div>
<div class="t r" style="right:1424.95px;top:546.2px">614</div>
<div class="t r" style="right:1424.95px;top:563.7px">674</div>
<div class="t r" style="right:1424.95px;top:581.2px">242</div>
<div class="t r" style="right:1424.95px;top:598.7px">6</div>
<div class="t r" style="right:1366.2px;top:476.2px">61</div>
<div class="t r" style="right:1366.2px;top:493.7px">1285</div>
<div class="t r" style="right:1366.2px;top:511.2px">1088</div>
<div class="t r" style="right:1366.2px;top:528.7px">116</div>
<div class="t r" style="right:1307.45px;top:425.2px">184</div>
<div class="t r" style="right:1307.45px;top:441.2px">425</div>
<div class="t r" style="right:1307.45px;top:458.7px">351</div>
<div class="t r" style="right:1307.45px;top:476.2px">352</div>
<div class="t r" style="right:1307.45px;top:493.7px">1300</div>
<div class="t r" style="right:1307.45px;top:511.2px">154</div>
<div class="t r" style="right:1248.7px;top:441.2px">3</div>
<div class="t r" style="right:1248.7px;top:458.7px">735</div>
<div class="t r" style="right:1248.7px;top:476.2px">1880</div>
<div class="t r" style="right:1248.7px;top:493.7px">855</div>
<div class="t r" style="right:1248.7px;top:511.2px">371</div>
<div class="t r" style="right:1248.7px;top:528.7px">347</div>
<div class="t r" style="right:1189.95px;top:476.2px">229</div>
<div class="t r" style="right:1189.95px;top:493.7px">1089</div>
<div class="t r" style="right:1189.95px;top:511.2px">1947</div>
<div class="t r" style="right:1189.95px;top:528.7px">859</div>
<div class="t r" style="right:1189.95px;top:546.2px">277</div>
<div class="t r" style="right:1189.95px;top:563.7px">20</div>
<div class="t r" style="right:1131.2px;top:476.2px">71</div>
<div class="t r" style="right:1131.2px;top:493.7px">154</div>
<div class="t r" style="right:1131.2px;top:511.2px">779</div>
<div class="t r" style="right:1131.2px;top:528.7px">2422</div>
<div class="t r" style="right:1131.2px;top:546.2px">1837</div>
<div class="t r" style="right:1131.2px;top:563.7px">171</div>
<div class="t r" style="right:1072.45px;top:493.7px">208</div>
<div class="t r" style="right:1072.45px;top:511.2px">251</div>
<div class="t r" style="right:1072.45px;top:528.7px">658</div>
<div class="t r" style="right:1072.45px;top:546.2px">446</div>
<div class="t r" style="right:1072.45px;top:563.7px">1119</div>
<div class="t r" style="right:1072.45px;top:581.2px">368</div>
<div class="t r" style="right:1072.45px;top:598.7px">234</div>
<div class="t r" style="right:1072.45px;top:616.2px">57</div>
<div class="t r" style="right:1013.7px;top:458.7px">52</div>
<div class="t r" style="right:1013.7px;top:476.2px">340</div>
<div class="t r" style="right:1013.7px;top:493.7px">912</div>
<div class="t r" style="right:1013.7px;top:511.2px">1470</div>
<div class="t r" style="right:1013.7px;top:528.7px">1402</div>
<div class="t r" style="right:1013.7px;top:546.2px">698</div>
<div class="t r" style="right:1013.7px;top:563.7px">561</div>
<div class="t r" style="right:1013.7px;top:581.2px">42</div>
<div class="t r" style="right:954.95px;top:441.2px">16</div>
<div class="t r" style="right:954.95px;top:458.7px">327</div>
<div class="t r" style="right:954.95px;top:476.2px">1222</div>
<div class="t r" style="right:954.95px;top:493.7px">574</div>
<div class="t r" style="right:954.95px;top:511.2px">161</div>
<div class="t r" style="right:954.95px;top:528.7px">219</div>
<div class="t r" style="right:954.95px;top:546.2px">427</div>
<div class="t r" style="right:954.95px;top:563.7px">69</div>
<div class="t r" style="right:896.2px;top:337.7px">22</div>
<div class="t r" style="right:896.2px;top:355.2px">251</div>
<div class="t r" style="right:896.2px;top:372.7px">125</div>
<div class="t r" style="right:896.2px;top:390.2px">544</div>
<div class="t r" style="right:896.2px;top:407.7px">877</div>
<div class="t r" style="right:896.2px;top:425.2px">1530</div>
<div class="t r" style="right:896.2px;top:441.2px">1558</div>
<div class="t r" style="right:896.2px;top:458.7px">2242</div>
<div class="t r" style="right:896.2px;top:476.2px">915</div>
<div class="t r" style="right:896.2px;top:493.7px">306</div>
<div class="t r" style="right:837.45px;top:197.7px">5</div>
<div class="t r" style="right:837.45px;top:215.2px">109</div>
<div class="t r" style="right:837.45px;top:232.7px">210</div>
<div class="t r" style="right:837.45px;top:250.2px">97</div>
<div class="t r" style="right:837.45px;top:267.7px">303</div>
<div class="t r" style="right:837.45px;top:285.2px">397</div>
<div class="t r" style="right:837.45px;top:302.7px">419</div>
<div class="t r" style="right:837.45px;top:320.2px">1502</div>
<div class="t r" style="right:837.45px;top:337.7px">1676</div>
<div class="t r" style="right:837.45px;top:355.2px">885</div>
<div class="t r" style="right:837.45px;top:372.7px">430</div>
<div class="t r" style="right:837.45px;top:390.2px">164</div>
<div class="t r" style="right:778.7px;top:162.7px">50</div>
<div class="t r" style="right:778.7px;top:180.2px">68</div>
<div class="t r" style="right:778.7px;top:197.7px">261</div>
<div class="t r" style="right:778.7px;top:215.2px">869</div>
<div class="t r" style="right:778.7px;top:232.7px">1414</div>
<div class="t r" style="right:778.7px;top:250.2px">1238</div>
<div class="t r" style="right:778.7px;top:267.7px">782</div>
<div class="t r" style="right:778.7px;top:285.2px">222</div>
<div class="t r" style="right:719.95px;top:40.2px">170</div>
<div class="t r" style="right:719.95px;top:57.7px">425</div>
<div class="t r" style="right:719.95px;top:75.2px">386</div>
<div class="t r" style="right:719.95px;top:92.7px">768</div>
<div class="t r" style="right:719.95px;top:110.2px">646</div>
<div class="t r" style="right:719.95px;top:127.7px">498</div>
<div class="t r" style="right:719.95px;top:145.2px">20</div>
<div class="t r" style="right:719.95px;top:162.7px">113</div>
<div class="t r" style="right:719.95px;top:180.2px">594</div>
<div class="t r" style="right:719.95px;top:197.7px">1117</div>
<div class="t r" style="right:719.95px;top:215.2px">1083</div>
<div class="t r" style="right:719.95px;top:232.7px">389</div>
<div class="t r" style="right:719.95px;top:250.2px">301</div>
<div class="t r" style="right:719.95px;top:267.7px">105</div>
<div class="t r" style="right:719.95px;top:285.2px">521</div>
<div class="t r" style="right:661.2px;top:110.2px">210</div>
<div class="t r" style="right:661.2px;top:127.7px">550</div>
<div class="t r" style="right:661.2px;top:145.2px">232</div>
<div class="t r" style="right:661.2px;top:162.7px">426</div>
<div class="t r" style="right:661.2px;top:180.2px">1155</div>
<div class="t r" style="right:661.2px;top:197.7px">1049</div>
<div class="t r" style="right:661.2px;top:215.2px">304</div>
<div class="t r" style="right:661.2px;top:232.7px">671</div>
<div class="t r" style="right:661.2px;top:250.2px">449</div>
<div class="t r" style="right:661.2px;top:267.7px">58</div>
<div class="t r" style="right:602.45px;top:215.2px">965</div>
<div class="t r" style="right:602.45px;top:232.7px">1446</div>
<div class="t r" style="right:602.45px;top:250.2px">506</div>
<div class="t r" style="right:543.7px;top:232.7px">412</div>
<div class="t r" style="right:543.7px;top:250.2px">1142</div>
<div class="t r" style="right:543.7px;top:267.7px">938</div>
<div class="t r" style="right:484.95px;top:215.2px">260</div>
<div class="t r" style="right:484.95px;top:232.7px">658</div>
<div class="t r" style="right:484.95px;top:250.2px">836</div>
<div class="t r" style="right:484.95px;top:267.7px">386</div>
<div class="t r" style="right:484.95px;top:285.2px">317</div>
<div class="t r" style="right:484.95px;top:302.7px">289</div>
<div class="t r" style="right:484.95px;top:320.2px">101</div>
<div class="t r" style="right:426.2px;top:285.2px">496</div>
<div class="t r" style="right:426.2px;top:302.7px">925</div>
<div class="t r" style="right:426.2px;top:320.2px">1386</div>
<div class="t r" style="right:426.2px;top:337.7px">75</div>
<div class="t r" style="right:367.45px;top:250.2px">196</div>
<div class="t r" style="right:367.45px;top:267.7px">762</div>
<div class="t r" style="right:367.45px;top:285.2px">1101</div>
<div class="t r" style="right:308.7px;top:215.2px">399</div>
<div class="t r" style="right:308.7px;top:232.7px">550</div>
<div class="t r" style="right:308.7px;top:250.2px">761</div>
<div class="t r" style="right:308.7px;top:267.7px">502</div>
<div class="t r" style="right:308.7px;top:285.2px">238</div>
<div class="t r" style="right:249.95px;top:232.7px">208</div>
<div class="t r" style="right:249.95px;top:250.2px">435</div>
<div class="t r" style="right:249.95px;top:267.7px">1083</div></div>
<div class="t r" style="right:1600.35px;top:848.45px">-292</div>
<div class="t r" style="right:1600.35px;top:865.95px">2578</div>
<div class="t r" style="right:1600.35px;top:883.5px">2332</div>
<div class="t r" style="right:1600.35px;top:900.95px">35622</div>
<div class="t r" style="right:1541.6px;top:848.45px">-133</div>
<div class="t r" style="right:1541.6px;top:865.95px">2445</div>
<div class="t r" style="right:1541.6px;top:883.5px">8965</div>
<div class="t r" style="right:1541.6px;top:900.95px">44587</div>
<div class="t r" style="right:1482.85px;top:848.45px">433</div>
<div class="t r" style="right:1482.85px;top:865.95px">2878</div>
<div class="t r" style="right:1482.85px;top:883.5px">4249</div>
<div class="t r" style="right:1482.85px;top:900.95px">48836</div>
<div class="t r" style="right:1424.1px;top:848.45px">-257</div>
<div class="t r" style="right:1424.1px;top:865.95px">2621</div>
<div class="t r" style="right:1424.1px;top:883.5px">3627</div>
<div class="t r" style="right:1424.1px;top:900.95px">52463</div>
<div class="t r" style="right:1365.35px;top:848.45px">26</div>
<div class="t r" style="right:1365.35px;top:865.95px">2647</div>
<div class="t r" style="right:1365.35px;top:883.5px">2550</div>
<div class="t r" style="right:1365.35px;top:900.95px">55013</div>
<div class="t r" style="right:1306.6px;top:848.45px">-418</div>
<div class="t r" style="right:1306.6px;top:865.95px">2229</div>
<div class="t r" style="right:1306.6px;top:883.5px">2766</div>
<div class="t r" style="right:1306.6px;top:900.95px">57779</div>
<div class="t r" style="right:1247.85px;top:848.45px">-1131</div>
<div class="t r" style="right:1247.85px;top:865.95px">1098</div>
<div class="t r" style="right:1247.85px;top:883.5px">4191</div>
<div class="t r" style="right:1247.85px;top:900.95px">61970</div>
<div class="t r" style="right:1189.1px;top:848.45px">-1721</div>
<div class="t r" style="right:1189.1px;top:865.95px">-623</div>
<div class="t r" style="right:1189.1px;top:883.5px">4425</div>
<div class="t r" style="right:1189.1px;top:900.95px">66395</div>
<div class="t r" style="right:1130.35px;top:848.45px">1400</div>
<div class="t r" style="right:1130.35px;top:865.95px">777</div>
<div class="t r" style="right:1130.35px;top:883.5px">5434</div>
<div class="t r" style="right:1130.35px;top:900.95px">71829</div>
<div class="t r" style="right:1071.6px;top:848.45px">-261</div>
<div class="t r" style="right:1071.6px;top:865.95px">516</div>
<div class="t r" style="right:1071.6px;top:883.5px">3341</div>
<div class="t r" style="right:1071.6px;top:900.95px">75170</div>
<div class="t r" style="right:1012.85px;top:848.45px">-433</div>
<div class="t r" style="right:1012.85px;top:865.95px">83</div>
<div class="t r" style="right:1012.85px;top:883.5px">5477</div>
<div class="t r" style="right:1012.85px;top:900.95px">80647</div>
<div class="t r" style="right:954.1px;top:848.45px">283</div>
<div class="t r" style="right:954.1px;top:865.95px">366</div>
<div class="t r" style="right:954.1px;top:883.5px">3015</div>
<div class="t r" style="right:954.1px;top:900.95px">83662</div>
<div class="t r" style="right:895.35px;top:848.45px">528</div>
<div class="t r" style="right:895.35px;top:865.95px">894</div>
<div class="t r" style="right:895.35px;top:883.5px">8370</div>
<div class="t r" style="right:895.35px;top:900.95px">92032</div>
<div class="t r" style="right:836.6px;top:848.45px">-439</div>
<div class="t r" style="right:836.6px;top:865.95px">455</div>
<div class="t r" style="right:836.6px;top:883.5px">6197</div>
<div class="t r" style="right:836.6px;top:900.95px">98229</div>
<div class="t r" style="right:777.85px;top:848.45px">-1142</div>
<div class="t r" style="right:777.85px;top:865.95px">-687</div>
<div class="t r" style="right:777.85px;top:883.5px">4904</div>
<div class="t r" style="right:777.85px;top:900.95px">103133</div>
<div class="t r" style="right:719.1px;top:848.45px">-670</div>
<div class="t r" style="right:719.1px;top:865.95px">-1357</div>
<div class="t r" style="right:719.1px;top:883.5px">7136</div>
<div class="t r" style="right:719.1px;top:900.95px">110269</div>
<div class="t r" style="right:660.35px;top:848.45px">-1022</div>
<div class="t r" style="right:660.35px;top:865.95px">-2379</div>
<div class="t r" style="right:660.35px;top:883.5px">5104</div>
<div class="t r" style="right:660.35px;top:900.95px">115373</div>
<div class="t r" style="right:601.6px;top:848.45px">35</div>
<div class="t r" style="right:601.6px;top:865.95px">-2344</div>
<div class="t r" style="right:601.6px;top:883.5px">2917</div>
<div class="t r" style="right:601.6px;top:900.95px">118290</div>
<div class="t r" style="right:542.85px;top:848.45px">-194</div>
<div class="t r" style="right:542.85px;top:865.95px">-2538</div>
<div class="t r" style="right:542.85px;top:883.5px">2492</div>
<div class="t r" style="right:542.85px;top:900.95px">120782</div>
<div class="t r" style="right:484.1px;top:848.45px">-791</div>
<div class="t r" style="right:484.1px;top:865.95px">-3329</div>
<div class="t r" style="right:484.1px;top:883.5px">2847</div>
<div class="t r" style="right:484.1px;top:900.95px">123629</div>
<div class="t r" style="right:425.35px;top:848.45px">852</div>
<div class="t r" style="right:425.35px;top:865.95px">-2477</div>
<div class="t r" style="right:425.35px;top:883.5px">2882</div>
<div class="t r" style="right:425.35px;top:900.95px">126511</div>
<div class="t r" style="right:366.6px;top:848.45px">-319</div>
<div class="t r" style="right:366.6px;top:865.95px">-2796</div>
<div class="t r" style="right:366.6px;top:883.5px">2059</div>
<div class="t r" style="right:366.6px;top:900.95px">128570</div>
<div class="t r" style="right:307.85px;top:848.45px">-4</div>
<div class="t r" style="right:307.85px;top:865.95px">-2800</div>
<div class="t r" style="right:307.85px;top:883.5px">2450</div>
<div class="t r" style="right:307.85px;top:900.95px">131020</div>
<div class="t r" style="right:249.1px;top:848.45px">970</div>
<div class="t r" style="right:249.1px;top:865.95px">-1830</div>
<div class="t r" style="right:249.1px;top:883.5px">1726</div>
<div class="t r" style="right:249.1px;top:900.95px">132746</div>
<div class="t r" style="right:171.2px;top:848.45px">12</div>
<div class="t r" style="right:171.2px;top:865.95px">12</div>
<div class="t r" style="right:171.2px;top:883.5px">206</div>
<div class="t r" style="right:171.2px;top:900.95px">206</div>
<div class="t a" style="left:1909.4px;top:76.15px">0,6535</div>
<div class="t a" style="left:1909.4px;top:163.65px">0,6530</div>
<div class="t a" style="left:1909.4px;top:251.15px">0,6525</div>
<div class="t a" style="left:1909.4px;top:338.65px">0,6520</div>
<div class="t a" style="left:1909.4px;top:425.4px">0,6515</div>
<div class="t a" style="left:1909.4px;top:512.15px">0,6510</div>
<div class="t a" style="left:1909.4px;top:599.65px">0,6505</div>
<div class="t a" style="left:1909.4px;top:687.15px">0,6500</div>
<div class="t a" style="left:1909.4px;top:774.65px">0,6495</div>
<div class="t a" style="left:1909.4px;top:862.15px">0,6490</div>
<div class="t m" style="left:366.4px;top:926.2px">10:00</div>
<div class="t m" style="left:483.9px;top:926.2px">11:00</div>
<div class="t m" style="left:601.4px;top:926.2px">12:00</div>
<div class="t m" style="left:718.9px;top:926.2px">13:00</div>
<div class="t m" style="left:836.4px;top:926.2px">14:00</div>
<div class="t m" style="left:953.9px;top:926.2px">15:00</div>
<div class="t m" style="left:1071.4px;top:926.2px">16:00</div>
<div class="t m" style="left:1188.9px;top:926.2px">17:00</div>
<div class="t m" style="left:1306.4px;top:926.2px">18:00</div>
<div class="t m" style="left:1423.9px;top:926.2px">19:00</div>
<div class="t m" style="left:1541.4px;top:926.2px">20:00</div>
<div class="t m" style="left:1658.9px;top:926.2px">21:00</div>
<div class="t a" style="left:1910.6px;top:232.7px">0,6526</div>
<div id="pc"><div class="t r" style="right:3.65px;top:721.2px">21</div><div class="t r" style="right:3.65px;top:738.7px">1200</div><div class="t r" style="right:3.65px;top:756.2px">922</div><div class="t r" style="right:3.65px;top:773.7px">889</div><div class="t r" style="right:2.8px;top:848.45px">202</div><div class="t r" style="right:2.8px;top:865.95px">2870</div><div class="t r" style="right:2.8px;top:883.5px">1182</div><div class="t r" style="right:2.8px;top:900.95px">33290</div></div>
<div id="lb"><div style="top:1px">Delta</div><div style="top:18.5px">Cum. Delta</div><div style="top:36px">Volume</div><div style="top:52.5px">Cum.Volume</div><div style="top:54.5px;left:-3px">© 2019 NinjaTrader, LLC</div></div>
<svg width="2024" height="1002" viewBox="0 0 2024 1002">
<path d="M54 446.4 H1899.5" stroke="#2828f0" stroke-width="1.3" fill="none"/>
<path d="M224.3 179.2 C226.9 179.12 235.3 178.23 239.9 178.7 C244.5 179.17 248.3 180.92 251.9 182 C255.5 183.08 258.32 184.67 261.5 185.2 C264.68 185.73 267.82 184.4 271 185.2 C274.18 186 276.6 187.82 280.6 190 C284.6 192.18 290.2 195.72 295 198.3 C299.8 200.88 305 203.42 309.4 205.5 C313.8 207.58 317.8 208.38 321.4 210.8 C325 213.22 328.4 217.47 331 220 C333.6 222.53 335.73 224 337 226 C338.27 228 338.33 228 338.6 232 C338.87 236 338.63 244 338.6 250 C338.57 256 338.92 263.5 338.4 268 C337.88 272.5 336.73 274.07 335.5 277 C334.27 279.93 332.55 281.93 331 285.6 C329.45 289.27 329 294.37 326.2 299 C323.4 303.63 319.4 309.02 314.2 313.4 C309 317.78 301.78 321.32 295 325.3 C288.22 329.28 279.5 333.68 273.5 337.3 C267.5 340.92 265 342.6 259 347 C253 351.4 244.28 358.53 237.5 363.7 C230.72 368.87 223.48 374.4 218.3 378 C213.12 381.6 209.38 384.02 206.4 385.3 C203.42 386.58 201.4 385.63 200.4 385.7" stroke="#ed1c24" stroke-width="3.1" fill="none" stroke-linecap="round" stroke-linejoin="round"/>
<path d="M208.5 413.3 C211.07 413.37 217.67 412.72 223.9 413.7 C230.13 414.68 239.32 417.55 245.9 419.2 C252.48 420.85 257.55 422.68 263.4 423.6 C269.25 424.52 275.15 423.6 281 424.7 C286.85 425.8 293.38 428.18 298.5 430.2 C303.62 432.22 307.3 434.18 311.7 436.8 C316.1 439.42 321.23 442.92 324.9 445.9 C328.57 448.88 330.05 452.15 333.7 454.7 C337.35 457.25 343.15 458.47 346.8 461.2 C350.45 463.93 353.58 467.62 355.6 471.1 C357.62 474.58 357.25 478.8 358.9 482.1 C360.55 485.4 363.92 487.25 365.5 490.9 C367.08 494.55 367.85 499.62 368.4 504 C368.95 508.38 369.1 512.8 368.8 517.2 C368.5 521.6 367.88 526 366.6 530.4 C365.32 534.8 363.3 539.58 361.1 543.6 C358.9 547.62 356.32 550.85 353.4 554.5 C350.48 558.15 347.25 562.2 343.6 565.5 C339.95 568.8 335.72 571.37 331.5 574.3 C327.28 577.23 323.07 580.53 318.3 583.1 C313.53 585.67 308.38 587.5 302.9 589.7 C297.42 591.9 291.25 594.47 285.4 596.3 C279.55 598.13 273.65 599.25 267.8 600.7 C261.95 602.15 256.15 603.55 250.3 605 C244.45 606.45 237.83 608.12 232.7 609.4 C227.57 610.68 222.8 611.23 219.5 612.7 C216.2 614.17 214.8 616.25 212.9 618.2 C211 620.15 208.9 623.37 208.1 624.4" stroke="#ed1c24" stroke-width="3.1" fill="none" stroke-linecap="round" stroke-linejoin="round"/>
<path d="M227 674.5 C228.33 674.08 231.17 672.45 235 672 C238.83 671.55 244.17 671.22 250 671.8 C255.83 672.38 263.33 673.5 270 675.5 C276.67 677.5 283.33 680.97 290 683.8 C296.67 686.63 304.17 689.38 310 692.5 C315.83 695.62 319.58 698.95 325 702.5 C330.42 706.05 337.5 710.05 342.5 713.8 C347.5 717.55 351.25 721.05 355 725 C358.75 728.95 362.5 733.75 365 737.5 C367.5 741.25 368.83 743.75 370 747.5 C371.17 751.25 372 755.83 372 760 C372 764.17 371.58 767.5 370 772.5 C368.42 777.5 365.83 784.58 362.5 790 C359.17 795.42 355 800.62 350 805 C345 809.38 338.75 813.17 332.5 816.3 C326.25 819.43 320 821.72 312.5 823.8 C305 825.88 294.58 827.55 287.5 828.8 C280.42 830.05 276.25 830.05 270 831.3 C263.75 832.55 257.5 834.3 250 836.3 C242.5 838.3 231.87 842.05 225 843.3 C218.13 844.55 211.5 843.72 208.8 843.8" stroke="#ed1c24" stroke-width="3.1" fill="none" stroke-linecap="round" stroke-linejoin="round"/>
<path d="M1105 526.3 L1124.7 580.3 H1115 V634.5 H1095.4 V580.3 H1085.3 Z" stroke="#ed1c24" stroke-width="4.6" fill="none" stroke-linejoin="round"/>
<path d="M1103.4 807.3 H1119.6 V843.4 H1127.7 L1111.5 880.7 L1095.4 843.4 H1103.4 Z" stroke="#ed1c24" stroke-width="4.6" fill="none" stroke-linejoin="round"/>
<path d="M438.3 553.6 V566.6" stroke="#ff0000" stroke-width="2.4" fill="none"/>
<path d="M433.2 565.2 h10.2 l-5.1 9.2 Z" fill="#ff0000"/>
<path d="M1025.8 414 V427" stroke="#ff0000" stroke-width="2.4" fill="none"/>
<path d="M1020.7 425.6 h10.2 l-5.1 9.2 Z" fill="#ff0000"/>
</svg></body></html>
